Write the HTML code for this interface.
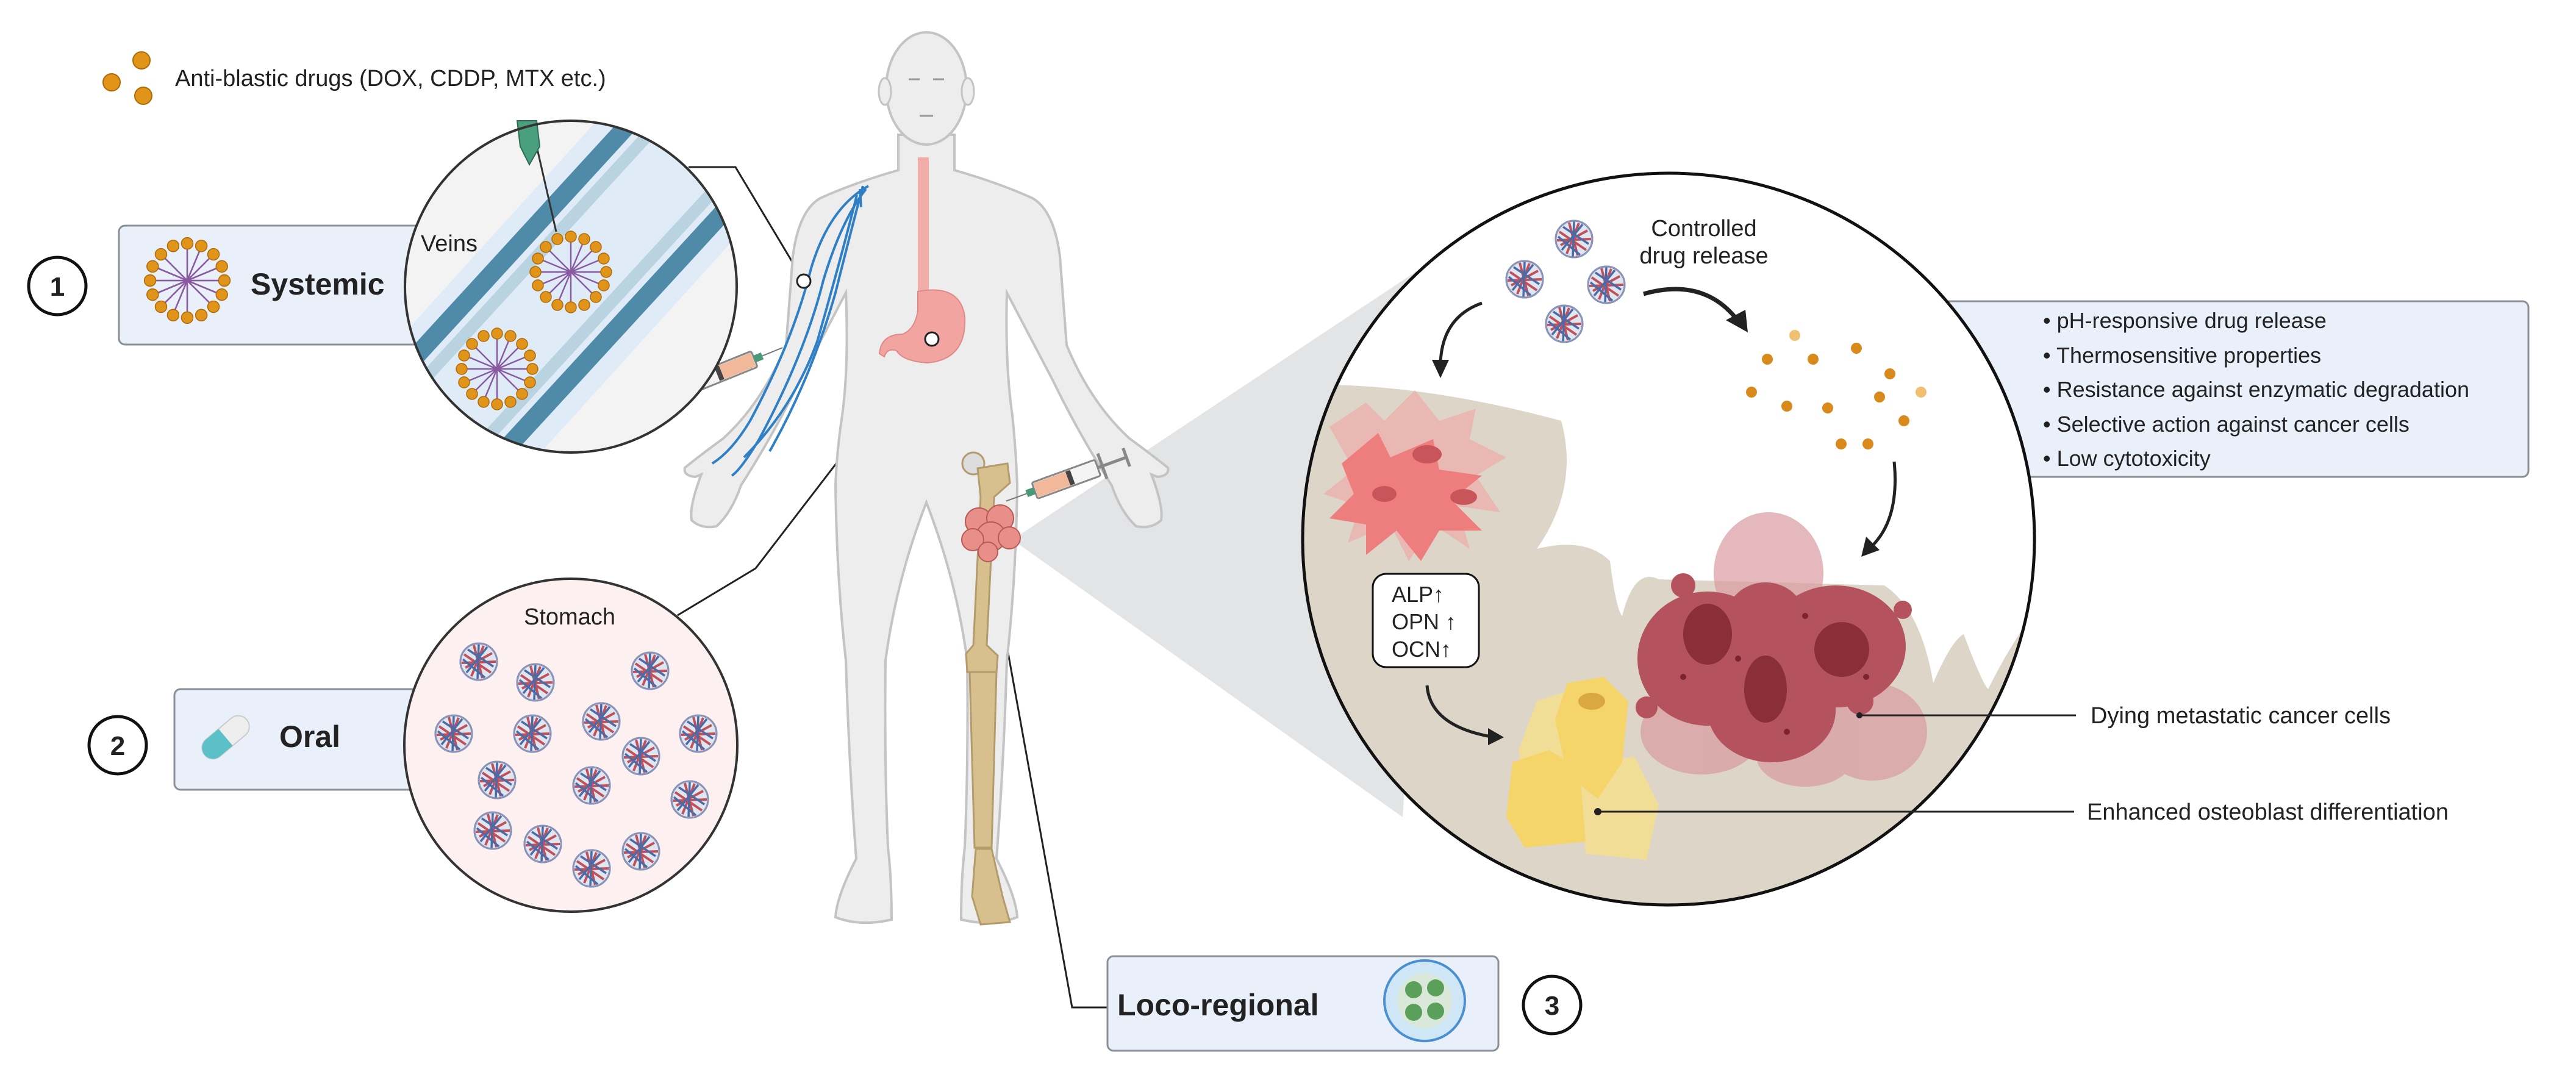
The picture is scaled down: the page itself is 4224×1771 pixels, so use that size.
<!DOCTYPE html>
<html><head><meta charset="utf-8"><style>
html,body{margin:0;padding:0;background:#fff}
svg{display:block}
text{font-family:"Liberation Sans",sans-serif;fill:#222}
</style></head><body>
<svg width="4224" height="1771" viewBox="0 0 4224 1771" xmlns="http://www.w3.org/2000/svg">
<defs>
<g id="np">
 <circle r="30" fill="#dfe6f0" stroke="#7a8bb0" stroke-width="3"/>
 <path d="M-24,-12 L20,18 M-22,10 L22,-14 M-8,-27 L6,27 M-28,2 L28,0 M8,-26 L-12,24" stroke="#c0505a" stroke-width="4" fill="none"/>
 <path d="M-18,-20 L24,8 M-26,-4 L10,26 M14,-24 L-20,18 M0,-29 L-2,29" stroke="#4a6aa8" stroke-width="3.5" fill="none"/>
 <circle r="30" fill="none" stroke="#8a93b8" stroke-width="3"/>
</g>
<g id="lipo">
 <g stroke="#8a5aa0" stroke-width="2.5" fill="none">
  <path d="M0,0 L0,-52 M0,0 L37,-37 M0,0 L52,0 M0,0 L37,37 M0,0 L0,52 M0,0 L-37,37 M0,0 L-52,0 M0,0 L-37,-37 M0,0 L20,-48 M0,0 L48,20 M0,0 L-20,48 M0,0 L-48,-20 M0,0 L48,-20 M0,0 L-48,20"/>
 </g>
 <g fill="#e0951a" stroke="#b06a08" stroke-width="1.5">
  <circle cx="0" cy="-58" r="9"/><circle cx="22" cy="-54" r="9"/><circle cx="41" cy="-41" r="9"/><circle cx="54" cy="-22" r="9"/><circle cx="58" cy="0" r="9"/><circle cx="54" cy="22" r="9"/><circle cx="41" cy="41" r="9"/><circle cx="22" cy="54" r="9"/><circle cx="0" cy="58" r="9"/><circle cx="-22" cy="54" r="9"/><circle cx="-41" cy="41" r="9"/><circle cx="-54" cy="22" r="9"/><circle cx="-58" cy="0" r="9"/><circle cx="-54" cy="-22" r="9"/><circle cx="-41" cy="-41" r="9"/><circle cx="-22" cy="-54" r="9"/>
 </g>
</g>
<g id="syr">
 <rect x="0" y="-14" width="110" height="28" rx="3" fill="#f4f4f4" stroke="#888" stroke-width="3"/>
 <rect x="50" y="-12" width="58" height="24" fill="#f2b89a"/>
 <rect x="44" y="-12" width="8" height="24" fill="#444"/>
 <line x1="-50" y1="0" x2="0" y2="0" stroke="#888" stroke-width="5"/>
 <line x1="-50" y1="-16" x2="-50" y2="16" stroke="#888" stroke-width="5"/>
 <line x1="-8" y1="-22" x2="-8" y2="22" stroke="#888" stroke-width="5"/>
 <rect x="110" y="-6" width="14" height="12" fill="#4a9a7a"/>
 <line x1="124" y1="0" x2="160" y2="0" stroke="#777" stroke-width="2"/>
</g>
<clipPath id="bigc"><circle cx="2736" cy="884" r="600"/></clipPath>
<clipPath id="vc"><circle cx="936" cy="470" r="272"/></clipPath>
</defs>

<!-- legend -->
<circle cx="232" cy="99" r="14" fill="#e0951a" stroke="#b06a08" stroke-width="2"/>
<circle cx="183" cy="135" r="14" fill="#e0951a" stroke="#b06a08" stroke-width="2"/>
<circle cx="235" cy="157" r="14" fill="#e0951a" stroke="#b06a08" stroke-width="2"/>
<text x="287" y="141" font-size="38">Anti-blastic drugs (DOX, CDDP, MTX etc.)</text>

<!-- grey cone -->
<polygon points="1660,885 2360,420 2300,1340" fill="#e3e4e6"/>

<!-- connectors -->
<polyline points="1129,274 1206,274 1318,461" fill="none" stroke="#222" stroke-width="3"/>
<polyline points="1111,1009 1239,932 1528,556" fill="none" stroke="#222" stroke-width="3"/>
<polyline points="1816,1652 1758,1652 1626,921" fill="none" stroke="#222" stroke-width="3"/>

<!-- body -->
<path d="M1473,221 L1473,279 Q1400,300 1345,325 Q1310,345 1300,420 L1289,566 Q1250,660 1186,719 Q1150,745 1123,767 Q1120,780 1140,782 L1150,778 Q1130,830 1134,853 Q1150,868 1175,863 Q1200,840 1215,796 Q1270,710 1312,623 L1387,480 Q1392,600 1381,681 Q1372,740 1370,796 Q1372,950 1387,1083 Q1392,1250 1404,1408 Q1372,1470 1370,1504 Q1410,1520 1462,1508 Q1462,1440 1456,1389 Q1450,1250 1452,1083 Q1470,950 1519,824 Q1568,950 1586,1083 Q1588,1250 1582,1389 Q1576,1440 1576,1508 Q1628,1520 1668,1504 Q1666,1470 1634,1408 Q1646,1250 1651,1083 Q1666,950 1668,796 Q1666,740 1660,681 Q1648,600 1651,480 L1726,623 Q1768,710 1823,796 Q1838,840 1863,863 Q1888,868 1904,853 Q1908,830 1888,778 L1898,782 Q1918,780 1915,767 Q1888,745 1852,719 Q1788,660 1749,566 L1738,420 Q1728,345 1693,325 Q1638,300 1565,279 L1565,221 Z" fill="#ededed" stroke="#c4c4c4" stroke-width="4"/>
<ellipse cx="1519" cy="145" rx="66" ry="92" fill="#ededed" stroke="#c4c4c4" stroke-width="4"/>
<ellipse cx="1451" cy="150" rx="10" ry="22" fill="#ededed" stroke="#c4c4c4" stroke-width="3"/>
<ellipse cx="1587" cy="150" rx="10" ry="22" fill="#ededed" stroke="#c4c4c4" stroke-width="3"/>
<path d="M1490,130 h18 M1530,130 h18 M1508,190 h22" stroke="#999" stroke-width="3"/>
<!-- esophagus & stomach -->
<rect x="1505" y="258" width="18" height="225" fill="#f2a5a0" opacity="0.9"/>
<path d="M1505,478 Q1575,465 1582,520 Q1585,590 1520,595 Q1480,592 1470,575 Q1455,570 1450,585 L1442,580 Q1445,548 1480,548 Q1500,540 1505,510 Z" fill="#f2a5a0" stroke="#e08a88" stroke-width="2"/>
<!-- veins -->
<g stroke="#2f7fc6" stroke-width="4" fill="none">
<path d="M1424,305 Q1360,340 1330,440 Q1300,560 1230,690 Q1200,740 1168,760"/>
<path d="M1420,310 Q1380,360 1350,460 Q1320,580 1245,720 Q1215,770 1200,780"/>
<path d="M1415,305 Q1395,380 1370,480 Q1330,620 1262,740"/>
<path d="M1405,320 Q1380,420 1340,560 Q1300,670 1220,750"/>
<path d="M1410,310 L1412,340"/>
</g>
<circle cx="1318" cy="461" r="11" fill="#fff" stroke="#222" stroke-width="3"/>
<circle cx="1528" cy="556" r="11" fill="#fff" stroke="#222" stroke-width="3"/>
<!-- bones -->
<g fill="#d8bf8e" stroke="#b39b6c" stroke-width="3">
<circle cx="1596" cy="760" r="18" fill="#ddd"/>
<path d="M1603,768 L1652,760 L1656,792 L1630,815 L1618,1058 L1636,1075 L1634,1102 L1586,1102 L1584,1072 L1596,1058 L1608,815 Z"/>
<path d="M1590,1102 L1634,1102 L1626,1390 L1598,1390 Z"/>
<path d="M1600,1392 L1626,1392 L1644,1470 L1656,1512 L1608,1516 L1594,1470 Z"/>
</g>
<!-- tumor -->
<g fill="#e98f8a" stroke="#b85a58" stroke-width="2">
<circle cx="1605" cy="855" r="22"/><circle cx="1640" cy="850" r="22"/><circle cx="1625" cy="880" r="24"/><circle cx="1595" cy="885" r="18"/><circle cx="1655" cy="882" r="18"/><circle cx="1620" cy="905" r="16"/>
</g>
<use href="#syr" transform="translate(1800,767) rotate(160)"/>
<use href="#syr" transform="translate(1135,630) rotate(-22)"/>

<!-- box 1 -->
<rect x="195" y="370" width="560" height="195" rx="10" fill="#e9f0fa" stroke="#8b8f96" stroke-width="3"/>
<use href="#lipo" transform="translate(307,460) scale(1.05)"/>
<text x="411" y="483" font-size="50" font-weight="bold">Systemic</text>
<circle cx="94" cy="469" r="47" fill="#fff" stroke="#111" stroke-width="5"/>
<text x="94" y="485" font-size="44" font-weight="bold" text-anchor="middle">1</text>

<!-- veins circle -->
<circle cx="936" cy="470" r="272" fill="#f3f3f3"/>
<g clip-path="url(#vc)">
<polygon points="560,660 1040,130 1260,330 780,860" fill="#dfecf8"/>
<line x1="640" y1="630" x2="1080" y2="150" stroke="#4f8ba8" stroke-width="30"/>
<line x1="665" y1="655" x2="1105" y2="175" stroke="#b9d3e0" stroke-width="20"/>
<line x1="780" y1="790" x2="1230" y2="300" stroke="#4f8ba8" stroke-width="30"/>
<line x1="755" y1="765" x2="1205" y2="275" stroke="#b9d3e0" stroke-width="20"/>
</g>
<use href="#lipo" transform="translate(936,446)"/>
<use href="#lipo" transform="translate(815,605)"/>
<line x1="880" y1="240" x2="912" y2="380" stroke="#333" stroke-width="3"/>
<polygon points="848,198 880,198 885,240 868,270 853,240" fill="#4aa07e" stroke="#2d6d55" stroke-width="2"/>
<circle cx="936" cy="470" r="272" fill="none" stroke="#333" stroke-width="4"/>
<text x="690" y="412" font-size="38">Veins</text>

<!-- box 2 -->
<rect x="286" y="1130" width="470" height="165" rx="10" fill="#e9f0fa" stroke="#8b8f96" stroke-width="3"/>
<g transform="translate(370,1209) rotate(-40)">
<rect x="-45" y="-18" width="90" height="36" rx="18" fill="#eee" stroke="#ccc" stroke-width="2"/>
<path d="M-27,-18 H0 V18 H-27 A18,18 0 0 1 -27,-18 Z" fill="#5cc0c8"/>
</g>
<text x="458" y="1225" font-size="50" font-weight="bold">Oral</text>
<circle cx="193" cy="1222" r="47" fill="#fff" stroke="#111" stroke-width="5"/>
<text x="193" y="1238" font-size="44" font-weight="bold" text-anchor="middle">2</text>

<!-- stomach circle -->
<circle cx="936" cy="1222" r="273" fill="#fdf0f0" stroke="#333" stroke-width="4"/>
<text x="934" y="1024" font-size="38" text-anchor="middle">Stomach</text>
<use href="#np" transform="translate(785,1085)"/><use href="#np" transform="translate(878,1119)"/><use href="#np" transform="translate(1066,1100)"/>
<use href="#np" transform="translate(744,1203)"/><use href="#np" transform="translate(873,1203)"/><use href="#np" transform="translate(986,1183)"/><use href="#np" transform="translate(1145,1203)"/>
<use href="#np" transform="translate(1051,1240)"/><use href="#np" transform="translate(815,1279)"/><use href="#np" transform="translate(970,1288)"/><use href="#np" transform="translate(1131,1311)"/>
<use href="#np" transform="translate(808,1362)"/><use href="#np" transform="translate(890,1384)"/><use href="#np" transform="translate(970,1424)"/><use href="#np" transform="translate(1051,1396)"/>

<!-- box 3 -->
<rect x="1816" y="1568" width="641" height="155" rx="10" fill="#e9f0fa" stroke="#8b8f96" stroke-width="3"/>
<text x="1832" y="1665" font-size="50" font-weight="bold">Loco-regional</text>
<circle cx="2336" cy="1641" r="66" fill="#cfe6f6" stroke="#4a90d0" stroke-width="4"/>
<circle cx="2336" cy="1641" r="45" fill="#d9e8d9"/>
<circle cx="2318" cy="1623" r="14" fill="#5aa05a"/><circle cx="2354" cy="1620" r="14" fill="#5aa05a"/><circle cx="2318" cy="1660" r="14" fill="#5aa05a"/><circle cx="2354" cy="1658" r="14" fill="#5aa05a"/>
<circle cx="2545" cy="1648" r="47" fill="#fff" stroke="#111" stroke-width="5"/>
<text x="2545" y="1664" font-size="44" font-weight="bold" text-anchor="middle">3</text>

<!-- properties box (behind circle) -->
<rect x="3150" y="494" width="996" height="288" rx="10" fill="#e9f0fa" stroke="#8b8f96" stroke-width="3"/>

<!-- big circle -->
<circle cx="2736" cy="884" r="600" fill="#fff"/>
<g clip-path="url(#bigc)">
<path d="M2100,633 Q2300,620 2560,690 Q2590,800 2520,900 Q2600,880 2640,920 Q2650,1000 2660,1010 Q2680,930 2720,950 L3090,960 Q3150,1000 3170,1120 Q3200,1050 3220,1040 Q3250,1120 3260,1130 Q3300,1050 3340,1000 L3400,1600 L2100,1600 Z" fill="#ddd5c8"/>
<!-- red cells -->
<g fill="#f2a0a0" opacity="0.55">
<path d="M2180,700 l60,-40 l30,30 l50,-50 l40,50 l60,-20 l-10,50 l60,30 l-50,30 l40,60 l-70,-10 l20,70 l-60,-40 l-40,60 l-30,-60 l-70,30 l20,-60 l-60,-20 l50,-40 z"/>
</g>
<g fill="#ee7d7d">
<path d="M2200,760 l60,-50 l20,40 l70,-30 l10,50 l70,10 l-50,40 l50,50 l-70,0 l-30,50 l-40,-50 l-50,40 l0,-50 l-60,-10 l40,-40 z"/>
</g>
<ellipse cx="2340" cy="745" rx="24" ry="15" fill="#c8555a"/><ellipse cx="2270" cy="810" rx="20" ry="13" fill="#c8555a"/><ellipse cx="2400" cy="815" rx="22" ry="13" fill="#c8555a"/>
<!-- cancer mass -->
<g fill="#d99aa0" opacity="0.7">
<ellipse cx="2900" cy="940" rx="90" ry="100"/><ellipse cx="3070" cy="1200" rx="90" ry="80"/><ellipse cx="2790" cy="1200" rx="100" ry="70"/><ellipse cx="2960" cy="1240" rx="80" ry="50"/>
</g>
<g fill="#b4535e">
<ellipse cx="2800" cy="1080" rx="115" ry="110"/><ellipse cx="3010" cy="1060" rx="115" ry="100"/><ellipse cx="2905" cy="1165" rx="105" ry="85"/><ellipse cx="2895" cy="1015" rx="65" ry="60"/>
<circle cx="2700" cy="1160" r="18"/><circle cx="3120" cy="1000" r="15"/><circle cx="2760" cy="960" r="20"/><circle cx="3050" cy="1150" r="22"/>
</g>
<ellipse cx="2800" cy="1040" rx="40" ry="50" fill="#8a2e38"/><ellipse cx="3020" cy="1065" rx="45" ry="45" fill="#8a2e38"/><ellipse cx="2895" cy="1130" rx="35" ry="55" fill="#8a2e38"/>
<g fill="#7a2530"><circle cx="2760" cy="1110" r="5"/><circle cx="2850" cy="1080" r="5"/><circle cx="2960" cy="1010" r="5"/><circle cx="3060" cy="1110" r="5"/><circle cx="2930" cy="1200" r="5"/></g>
<!-- yellow cells -->
<g fill="#f6e08a" opacity="0.8">
<path d="M2490,1230 l30,-80 l60,-20 l50,40 l10,80 l-20,100 l-110,0 z"/>
<path d="M2590,1260 l90,-20 l40,80 l-20,90 l-100,-10 z"/>
</g>
<path d="M2550,1180 l20,-60 l60,-10 l40,40 l-10,100 l-40,60 l-50,-40 z" fill="#f5d46a"/>
<path d="M2480,1250 l60,-20 l50,30 l10,120 l-100,10 l-30,-50 z" fill="#f5d46a"/>
<ellipse cx="2610" cy="1150" rx="22" ry="14" fill="#d9a840"/>
</g>
<circle cx="2736" cy="884" r="600" fill="none" stroke="#111" stroke-width="5"/>
<!-- nanoparticles top -->
<use href="#np" transform="translate(2581,392)"/><use href="#np" transform="translate(2500,458)"/><use href="#np" transform="translate(2634,467)"/><use href="#np" transform="translate(2565,531)"/>
<text x="2794" y="387" font-size="38" text-anchor="middle">Controlled</text>
<text x="2794" y="432" font-size="38" text-anchor="middle">drug release</text>
<!-- orange dots -->
<g fill="#d98a1a">
<circle cx="2943" cy="550" r="9" fill="#f0c070"/><circle cx="2898" cy="589" r="9"/><circle cx="2973" cy="589" r="9"/><circle cx="3044" cy="571" r="9"/><circle cx="3099" cy="613" r="9"/><circle cx="3150" cy="643" r="9" fill="#f0c070"/><circle cx="2872" cy="643" r="9"/><circle cx="2930" cy="666" r="9"/><circle cx="2997" cy="669" r="9"/><circle cx="3082" cy="651" r="9"/><circle cx="3122" cy="690" r="9"/><circle cx="3019" cy="728" r="9"/><circle cx="3063" cy="728" r="9"/>
</g>
<!-- arrows -->
<g fill="none" stroke="#222" stroke-width="5">
<path d="M2430,497 Q2365,520 2362,595"/>
<path d="M2695,482 Q2790,455 2845,520" stroke-width="7"/>
<path d="M3106,757 Q3115,850 3070,895"/>
<path d="M2340,1124 Q2345,1190 2445,1208"/>
</g>
<polygon points="2348,590 2376,590 2362,620" fill="#222"/>
<polygon points="2830,525 2862,508 2866,545" fill="#222"/>
<polygon points="3060,880 3082,902 3052,913" fill="#222"/>
<polygon points="2440,1194 2440,1222 2466,1209" fill="#222"/>
<!-- ALP box -->
<rect x="2251" y="941" width="174" height="153" rx="22" fill="#fff" stroke="#111" stroke-width="3"/>
<text x="2282" y="987" font-size="36">ALP↑</text>
<text x="2282" y="1032" font-size="36">OPN ↑</text>
<text x="2282" y="1077" font-size="36">OCN↑</text>
<g font-size="36">
<text x="3350" y="538">• pH-responsive drug release</text>
<text x="3350" y="595">• Thermosensitive properties</text>
<text x="3350" y="651">• Resistance against enzymatic degradation</text>
<text x="3350" y="708">• Selective action against cancer cells</text>
<text x="3350" y="764">• Low cytotoxicity</text>
</g>
<!-- labels -->
<line x1="3049" y1="1173" x2="3404" y2="1173" stroke="#222" stroke-width="3"/>
<circle cx="3049" cy="1173" r="5" fill="#222"/>
<text x="3428" y="1186" font-size="38">Dying metastatic cancer cells</text>
<line x1="2620" y1="1331" x2="3401" y2="1331" stroke="#222" stroke-width="3"/>
<circle cx="2620" cy="1331" r="6" fill="#222"/>
<text x="3422" y="1344" font-size="38">Enhanced osteoblast differentiation</text>
</svg>
</body></html>
